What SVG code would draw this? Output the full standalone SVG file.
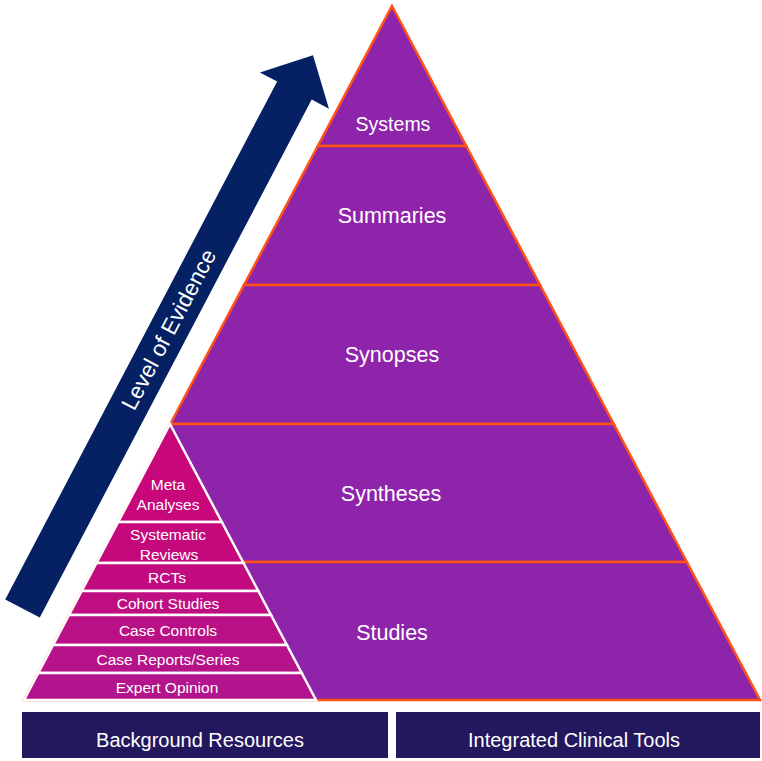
<svg xmlns="http://www.w3.org/2000/svg" width="762" height="761" viewBox="0 0 762 761">
<style>
.big{fill:#8E24AA;stroke:#FF5216;stroke-width:2.5;stroke-linejoin:miter}
.sm{stroke:#FFFFFF;stroke-width:2.5;stroke-linejoin:miter}
.t{font-family:"Liberation Sans",Arial,sans-serif;fill:#FFFFFF;text-anchor:middle}
.bt{font-size:21.5px}
.st{font-size:15.5px}
.box{fill:#23175E}
</style>
<rect width="762" height="761" fill="#FFFFFF"/>
<g id="arrow">
<g transform="translate(22.5,608.5) rotate(-62.3)">
<polygon points="0,-19.5 585,-19.5 585,-39 625,0 585,39 585,19.5 0,19.5" fill="#052163"/>
<text class="t" x="315" y="7.5" font-size="22.5">Level of Evidence</text>
</g>
</g>
<g id="big-pyramid">
<g id="systems"><polygon class="big" points="392,6 466.2,146 317.8,146"/><text class="t" x="393" y="130.5" font-size="19.5">Systems</text></g>
<g id="summaries"><polygon class="big" points="317.8,146 466.2,146 540,285 244,285"/><text class="t bt" x="392" y="223">Summaries</text></g>
<g id="synopses"><polygon class="big" points="244,285 540,285 613.7,424 170.3,424"/><text class="t bt" x="392" y="362">Synopses</text></g>
<g id="syntheses"><polygon class="big" points="170.3,424 613.7,424 686.8,562 97.2,562"/><text class="t bt" x="391" y="501">Syntheses</text></g>
<g id="studies"><polygon class="big" points="97.2,562 686.8,562 760,700 24,700"/><text class="t bt" x="392" y="640">Studies</text></g>
</g>
<g id="small-pyramid">
<g id="meta"><polygon class="sm" fill="#C8077A" points="170,424 221.8,522 118.2,522"/><text class="t st" x="168" y="490">Meta</text><text class="t st" x="168" y="509.5">Analyses</text></g>
<g id="systematic"><polygon class="sm" fill="#C5097C" points="118.2,522 221.8,522 243.5,563 96.5,563"/><text class="t st" x="168" y="540">Systematic</text><text class="t st" x="169" y="559.5">Reviews</text></g>
<g id="rcts"><polygon class="sm" fill="#C20B7F" points="96.5,563 243.5,563 258.3,591 81.7,591"/><text class="t st" x="167" y="583">RCTs</text></g>
<g id="cohort"><polygon class="sm" fill="#BE0E82" points="81.7,591 258.3,591 271,615 69,615"/><text class="t st" x="168" y="609">Cohort Studies</text></g>
<g id="case-controls"><polygon class="sm" fill="#BA1085" points="69,615 271,615 286.9,645 53.1,645"/><text class="t st" x="168" y="636">Case Controls</text></g>
<g id="case-reports"><polygon class="sm" fill="#B6128A" points="53.1,645 286.9,645 301.7,673 38.3,673"/><text class="t st" x="168" y="665">Case Reports/Series</text></g>
<g id="expert"><polygon class="sm" fill="#B2148D" points="38.3,673 301.7,673 316,700 24,700"/><text class="t st" x="167" y="693">Expert Opinion</text></g>
</g>
<g id="background-resources"><rect class="box" x="22" y="712" width="366" height="46"/><text class="t" font-size="20" x="200" y="747">Background Resources</text></g>
<g id="integrated-tools"><rect class="box" x="396" y="712" width="364" height="46"/><text class="t" font-size="20" x="574" y="747">Integrated Clinical Tools</text></g>
</svg>
